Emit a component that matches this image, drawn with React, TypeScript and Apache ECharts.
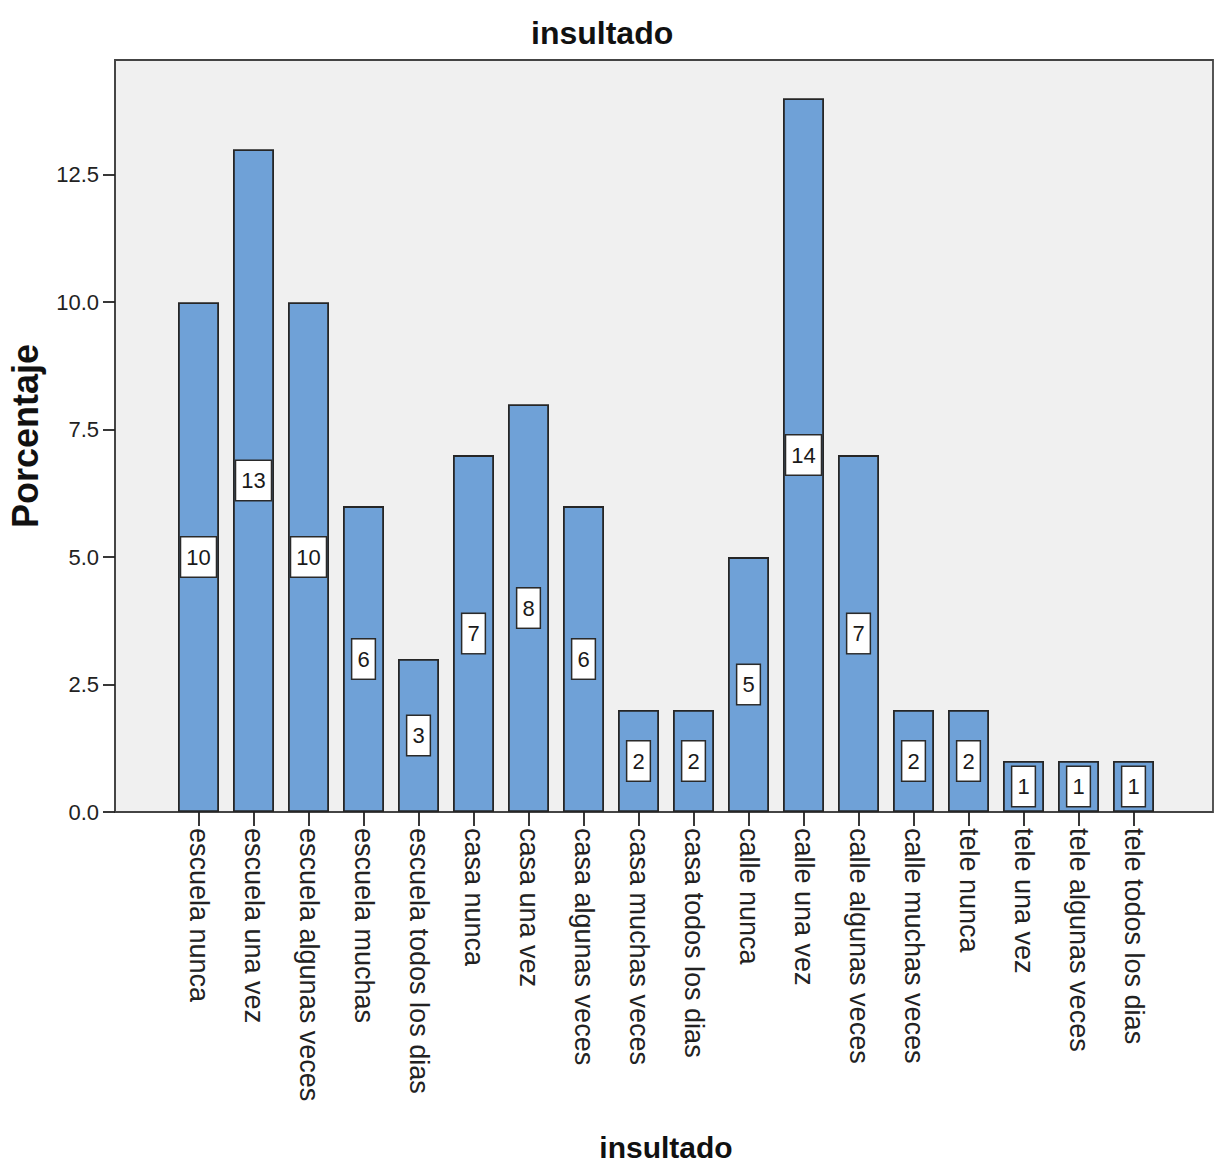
import React, { useEffect, useRef } from "react";
import * as echarts from "echarts";

const categories = [
  "escuela nunca",
  "escuela una vez",
  "escuela algunas veces",
  "escuela muchas",
  "escuela todos los dias",
  "casa nunca",
  "casa una vez",
  "casa algunas veces",
  "casa muchas veces",
  "casa todos los dias",
  "calle nunca",
  "calle una vez",
  "calle algunas veces",
  "calle muchas veces",
  "tele nunca",
  "tele una vez",
  "tele algunas veces",
  "tele todos los dias",
];
const values = [10, 13, 10, 6, 3, 7, 8, 6, 2, 2, 5, 14, 7, 2, 2, 1, 1, 1];
const yTicks = [0, 2.5, 5, 7.5, 10, 12.5];
const yMax = 14.75;

const SANS = "'Liberation Sans', Arial, sans-serif";

export default function App() {
  const ref = useRef<HTMLDivElement>(null);
  useEffect(() => {
    document.body.style.margin = "0";
    if (!ref.current) return;
    const chart = echarts.init(ref.current, null, { renderer: "svg" });
    chart.setOption({
      animation: false,
      backgroundColor: "#ffffff",
      title: {
        text: "insultado",
        left: 526,
        top: 12,
        textStyle: { fontFamily: SANS, fontWeight: "bold", fontSize: 32, color: "#111" },
      },
      grid: [
        {
          left: 115,
          top: 60,
          right: 9,
          bottom: 350,
          outerBoundsMode: "none",
          containLabel: false,
          show: true,
          backgroundColor: "#f0f0f0",
          borderColor: "#444",
          borderWidth: 1.8,
        },
        {
          left: 171,
          top: 60,
          right: 61,
          bottom: 350,
          outerBoundsMode: "none",
          containLabel: false,
          show: false,
        },
      ],
      xAxis: [
        { gridIndex: 0, type: "value", show: false, min: 0, max: 1 },
        {
          gridIndex: 1,
          type: "category",
          data: categories,
          boundaryGap: true,
          axisLine: { show: false },
          axisTick: { show: true, alignWithLabel: true, length: 14, lineStyle: { color: "#222", width: 1.8 } },
          axisLabel: {
            rotate: -90,
            interval: 0,
            margin: 16,
            fontFamily: SANS,
            fontSize: 27,
            color: "#222",
          },
          name: "insultado",
          nameLocation: "middle",
          nameGap: 320,
          nameTextStyle: { fontFamily: SANS, fontWeight: "bold", fontSize: 30, color: "#111" },
        },
      ],
      yAxis: [
        { gridIndex: 0, type: "value", show: false, min: 0, max: 1 },
        {
          gridIndex: 1,
          type: "value",
          min: 0,
          max: yMax,
          offset: 56,
          splitLine: { show: false },
          axisLine: { show: true, lineStyle: { color: "#444", width: 1.8 } },
          axisTick: { show: true, length: 12, customValues: yTicks, lineStyle: { color: "#222", width: 1.8 } },
          axisLabel: {
            customValues: yTicks,
            margin: 16,
            fontFamily: SANS,
            fontSize: 22,
            color: "#222",
            formatter: (v: number) => v.toFixed(1),
          },
          name: "Porcentaje",
          nameLocation: "middle",
          nameGap: 72,
          nameTextStyle: { fontFamily: SANS, fontWeight: "bold", fontSize: 36, color: "#111" },
        },
      ],
      series: [
        {
          type: "bar",
          xAxisIndex: 1,
          yAxisIndex: 1,
          data: values,
          barWidth: 41,
          itemStyle: { color: "#6fa1d7", borderColor: "#262626", borderWidth: 1.8 },
          label: {
            show: true,
            position: "inside",
            fontFamily: SANS,
            fontSize: 22,
            color: "#1a1a1a",
            backgroundColor: "#ffffff",
            borderColor: "#2a2a2a",
            borderWidth: 1.5,
            padding: [9, 5, 8, 5],
          },
        },
      ],
    });
    return () => chart.dispose();
  }, []);
  return <div ref={ref} style={{ width: 1222, height: 1162 }} />;
}
